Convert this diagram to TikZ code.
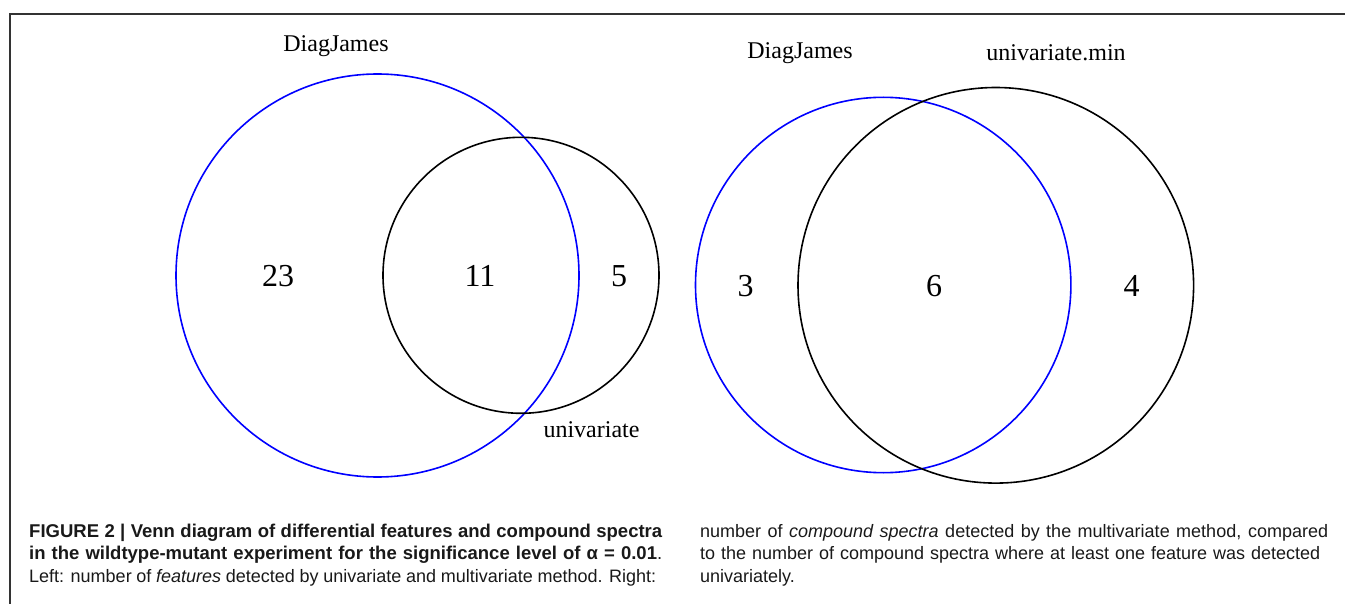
\documentclass[tikz,border=0pt]{standalone}
\usepackage{fontspec}
\setmainfont{Liberation Serif}
\newfontfamily\capfont{Liberation Sans}

\begin{document}
\begin{tikzpicture}[x=1pt,y=-1pt,
  setA/.style={circle, draw=blue, line width=1.6pt, inner sep=0pt},
  setB/.style={circle, draw=black, line width=1.6pt, inner sep=0pt},
  setname/.style={font=\fontsize{24}{28}\selectfont, inner sep=0pt, anchor=base},
  count/.style={font=\fontsize{32}{36}\selectfont, inner sep=0pt},
  capbold/.style={font=\capfont\bfseries\fontsize{18.5}{22}\selectfont, inner sep=0pt, anchor=base west, text=black!90},
  capreg/.style={font=\capfont\fontsize{18}{22}\selectfont, inner sep=0pt, anchor=base west, text=black!90}
]
\useasboundingbox (0,0) rectangle (1345,604);

% frame
\coordinate (fbl) at (10,604);
\coordinate (ftl) at (10,14);
\coordinate (ftr) at (1345,14);
\draw[line width=1.2pt, black!80] (fbl) -- (ftl) -- (ftr);

% left diagram: features
\node[setA, minimum size=403pt] (lmulti) at (377.5,275.5) {};
\node[setB, minimum size=276pt] (luni) at (521,275.3) {};
\node[setname] (lmultiname) at (336,52) {DiagJames};
\node[setname] (luniname) at (591.5,437) {univariate};
\node[count] (lonlymulti) at (278,276) {23};
\node[count] (lboth) at (480,276) {11};
\node[count] (lonlyuni) at (619,276) {5};

% right diagram: compound spectra
\node[setA, minimum size=375.4pt] (rmulti) at (883.2,285) {};
\node[setB, minimum size=395.6pt] (runi) at (995.8,285.3) {};
\node[setname] (rmultiname) at (800,59) {DiagJames};
\node[setname] (runiname) at (1056,61) {univariate.min};
\node[count] (ronlymulti) at (745.5,286) {3};
\node[count] (rboth) at (934,286) {6};
\node[count] (ronlyuni) at (1131.5,286) {4};

% caption, left column
\node[capbold] (c1) at (29,537) {\makebox[633pt][s]{FIGURE 2 | Venn diagram of differential features and compound spectra}};
\node[capbold] (c2) at (29,559.5) {\makebox[633pt][s]{in the wildtype-mutant experiment for the significance level of α = 0.01{\mdseries.}}};
\node[capreg] (c3) at (29,582) {\makebox[627pt][s]{Left: number of \textit{features} detected by univariate and multivariate method. Right:}};

% caption, right column
\node[capreg] (c4) at (700,537) {\makebox[628pt][s]{number of \textit{compound spectra} detected by the multivariate method, compared}};
\node[capreg] (c5) at (700,559.5) {\makebox[620pt][s]{to the number of compound spectra where at least one feature was detected}};
\node[capreg] (c6) at (700,582) {univariately.};
\end{tikzpicture}
\end{document}
